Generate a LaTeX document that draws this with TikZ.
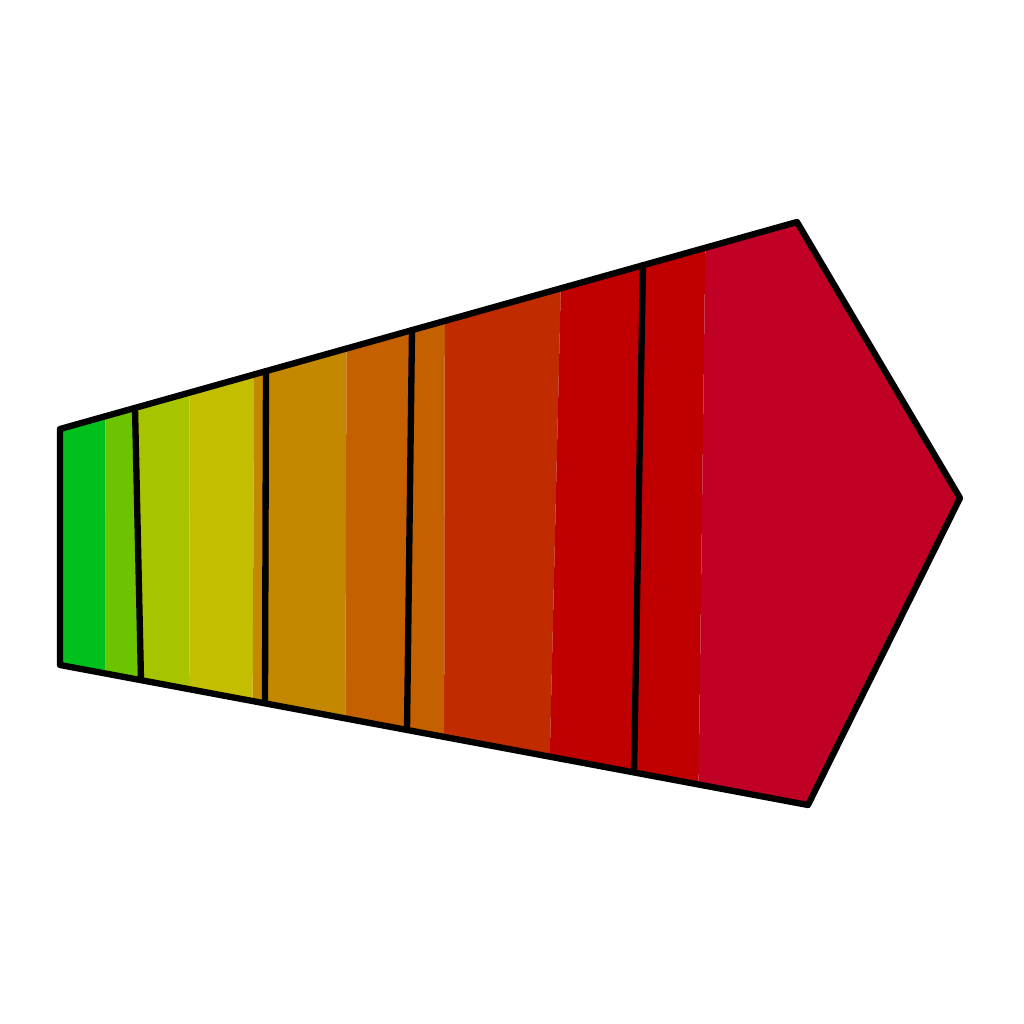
\documentclass[tikz,border=0pt]{standalone}
\usepackage{xcolor}
\definecolor{bandgreen}{RGB}{0,192,30}
\definecolor{bandlime}{RGB}{108,196,0}
\definecolor{bandolive}{RGB}{168,196,0}
\definecolor{bandyellow}{RGB}{196,190,0}
\definecolor{bandamber}{RGB}{196,136,0}
\definecolor{bandorange}{RGB}{196,96,0}
\definecolor{bandrust}{RGB}{192,44,0}
\definecolor{bandred}{RGB}{192,0,0}
\definecolor{bandcrimson}{RGB}{192,0,36}
\usepackage{tikz}
\usetikzlibrary{calc}

\begin{document}
\begin{tikzpicture}[
  outline/.style={line width=1.8pt, draw=black, line join=round},
  divider/.style={line width=1.8pt, draw=black, line cap=round}
]
\useasboundingbox (0,0) rectangle (10.24,10.24);

% outer arrow shape
\coordinate (tl) at (0.60,5.95);
\coordinate (tr) at (7.97,8.02);
\coordinate (tip) at (9.60,5.26);
\coordinate (br) at (8.08,2.19);
\coordinate (bl) at (0.60,3.59);

% colour bands, clipped to the shape
\begin{scope}
  \clip (tl) -- (tr) -- (tip) -- (br) -- (bl) -- cycle;
  \foreach \xa/\xb/\xc/\xd/\col in {
      0.00/0.00/1.05/1.06/bandgreen,
      1.05/1.06/1.30/1.44/bandlime,
      1.30/1.44/1.90/1.89/bandolive,
      1.90/1.89/2.55/2.52/bandyellow,
      2.55/2.52/3.47/3.45/bandamber,
      3.47/3.45/4.45/4.44/bandorange,
      4.45/4.44/5.63/5.48/bandrust,
      5.63/5.48/7.06/6.98/bandred,
      7.06/6.98/10.0/10.0/bandcrimson}
    \fill[\col] (\xa,8.3) -- (\xc,8.3) -- (\xd,1.9) -- (\xb,1.9) -- cycle;
\end{scope}

% dividers
\coordinate (d1t) at (1.35,6.16);
\coordinate (d1b) at (1.41,3.44);
\coordinate (d2t) at (2.66,6.53);
\coordinate (d2b) at (2.65,3.21);
\coordinate (d3t) at (4.12,6.94);
\coordinate (d3b) at (4.07,2.94);
\coordinate (d4t) at (6.43,7.59);
\coordinate (d4b) at (6.34,2.52);
\foreach \k in {1,...,4}
  \draw[divider] (d\k t) -- (d\k b);

\draw[outline] (tl) -- (tr) -- (tip) -- (br) -- (bl) -- cycle;
\end{tikzpicture}
\end{document}
